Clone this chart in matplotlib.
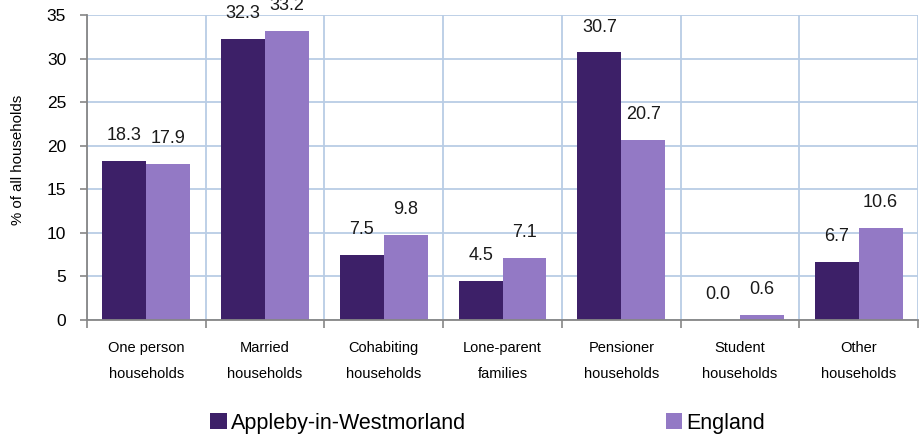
import matplotlib
matplotlib.use("Agg")
import matplotlib.pyplot as plt
import numpy as np

categories = ["One person\nhouseholds", "Married\nhouseholds", "Cohabiting\nhouseholds",
              "Lone-parent\nfamilies", "Pensioner\nhouseholds", "Student\nhouseholds",
              "Other\nhouseholds"]
appleby = [18.3, 32.3, 7.5, 4.5, 30.7, 0.0, 6.7]
england = [17.9, 33.2, 9.8, 7.1, 20.7, 0.6, 10.6]
series_names = ["Appleby-in-Westmorland", "England"]
yticks = [0, 5, 10, 15, 20, 25, 30, 35]

plt.rcParams['font.family'] = ['Liberation Sans', 'DejaVu Sans']

dark = "#3D2068"
light = "#9379C5"
grid_c = "#B9CDE5"
axis_c = "#868686"

fig = plt.figure(figsize=(9.19, 4.37), dpi=100)
ax = fig.add_axes([0.0947, 0.2677, 0.9043, 0.698])

n = len(categories)
x = np.arange(n)
w = 0.37
b1 = ax.bar(x - w/2, appleby, w, color=dark, label=series_names[0], zorder=3)
b2 = ax.bar(x + w/2, england, w, color=light, label=series_names[1], zorder=3)

for bars, vals in ((b1, appleby), (b2, england)):
    for r, v in zip(bars, vals):
        ax.annotate(f"{v:.1f}", (r.get_x() + r.get_width()/2, v),
                    xytext=(0, 12), textcoords="offset points",
                    ha="center", va="bottom", fontsize=13, color="#1a1a1a")

ax.set_xlim(-0.5, n - 0.5)
ax.set_ylim(0, 35)
ax.set_yticks(yticks)
ax.set_yticklabels([str(t) for t in yticks], fontsize=12.5)

bounds = np.arange(n + 1) - 0.5
ax.set_xticks(bounds)
ax.set_xticklabels([])
ax.set_xticks(x, minor=True)
ax.set_xticklabels(categories, minor=True, fontsize=10.5, linespacing=2.15)
ax.tick_params(axis='x', which='minor', length=0, pad=15)
ax.tick_params(axis='x', which='major', length=6, color=axis_c, width=1.2)
ax.tick_params(axis='y', length=5, color=axis_c, width=1.2, pad=10)

ax.grid(True, which='major', axis='both', color=grid_c, linewidth=1.3, zorder=0)
ax.set_axisbelow(True)

for s in ['top', 'right']:
    ax.spines[s].set_visible(False)
for s in ['left', 'bottom']:
    ax.spines[s].set_color(axis_c)
    ax.spines[s].set_linewidth(1.3)
    ax.spines[s].set_zorder(4)

ax.set_ylabel("% of all households", fontsize=10.8)
ax.yaxis.set_label_coords((25 - 87) / (0.9043 * 919), 0.525)

leg = fig.legend(handles=[b1, b2], labels=series_names, loc='center',
                 bbox_to_anchor=(0.531, 0.032), ncol=2, frameon=False,
                 fontsize=15.5, handlelength=0.75, handleheight=0.75,
                 handletextpad=0.2, columnspacing=9.3)

fig.savefig("out.png", dpi=100)
